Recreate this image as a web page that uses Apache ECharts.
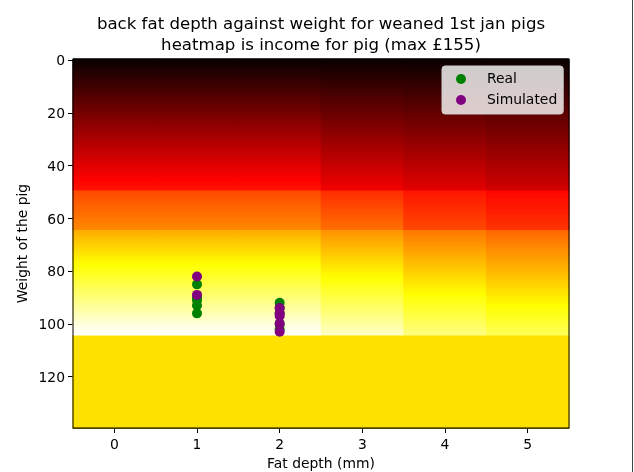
<!DOCTYPE html>
<html><head><meta charset="utf-8">
<script src="https://cdn.jsdelivr.net/npm/echarts@6/dist/echarts.min.js"></script>
<style>html,body{margin:0;padding:0;background:#fff}#c{width:634px;height:472px}</style>
</head><body><div id="c"></div>
<script>
const depthTicks = ['0','1','2','3','4','5'];
const incomeDepth0to2 = [0,1.2,2.5,3.7,5,6.2,7.4,8.7,9.9,11.2,12.4,13.6,14.9,16.1,17.4,18.6,19.8,21.1,22.3,23.6,24.8,26,27.3,28.5,29.8,31,32.2,33.5,34.7,36,37.2,38.4,39.7,40.9,42.2,43.4,44.6,45.9,47.1,48.4,49.6,50.8,52.1,53.3,54.6,55.8,57,58.3,59.5,60.8,
73.8,74.8,75.8,76.8,77.8,78.8,79.8,80.8,81.9,82.9,83.9,84.9,85.9,86.9,87.9,
96.9,98.3,99.8,101.3,102.8,104.3,105.8,107.3,108.8,110.3,111.8,113.2,114.7,116.2,117.7,119.2,120.7,122.2,123.7,125.2,126.7,128.1,129.6,131.1,132.6,134.1,135.6,137.1,138.6,140.1,141.6,143,144.5,146,147.5,149,150.5,152,153.5,155,
108.6,108.6,108.6,108.6,108.6,
108.6,108.6,108.6,108.6,108.6,
108.6,108.6,108.6,108.6,108.6,
108.6,108.6,108.6,108.6,108.6,
108.6,108.6,108.6,108.6,108.6,
108.6,108.6,108.6,108.6,108.6,
108.6,108.6,108.6,108.6,108.6];
const incomeDepth3 = [0,1.1,2.2,3.3,4.4,5.5,6.5,7.6,8.7,9.8,10.9,12,13.1,14.2,15.3,16.4,17.4,18.5,19.6,20.7,21.8,22.9,24,25.1,26.2,27.3,28.3,29.4,30.5,31.6,32.7,33.8,34.9,36,37.1,38.2,39.2,40.3,41.4,42.5,43.6,44.7,45.8,46.9,48,49.1,50.1,51.2,52.3,53.4,
67,68.1,69.1,70.2,71.3,72.4,73.4,74.5,75.6,76.6,77.7,78.8,79.9,80.9,82,
91,92.4,93.8,95.2,96.6,98,99.4,100.8,102.2,103.6,105,106.4,107.8,109.2,110.6,112,113.4,114.8,116.2,117.6,119,120.4,121.8,123.2,124.6,126,127.4,128.8,130.2,131.6,133,134.4,135.8,137.2,138.6,140,141.4,142.8,144.2,145.6,
108.6,108.6,108.6,108.6,108.6,
108.6,108.6,108.6,108.6,108.6,
108.6,108.6,108.6,108.6,108.6,
108.6,108.6,108.6,108.6,108.6,
108.6,108.6,108.6,108.6,108.6,
108.6,108.6,108.6,108.6,108.6,
108.6,108.6,108.6,108.6,108.6];
const incomeDepth4 = [0,1,2,3.1,4.1,5.1,6.1,7.1,8.2,9.2,10.2,11.2,12.2,13.3,14.3,15.3,16.3,17.3,18.4,19.4,20.4,21.4,22.4,23.5,24.5,25.5,26.5,27.5,28.6,29.6,30.6,31.6,32.6,33.7,34.7,35.7,36.7,37.7,38.8,39.8,40.8,41.8,42.8,43.9,44.9,45.9,46.9,47.9,49,50,
61.7,62.5,63.3,64.1,64.9,65.7,66.5,67.3,68.2,69,69.8,70.6,71.4,72.2,73,
84.5,85.8,87.1,88.4,89.7,91,92.3,93.6,94.9,96.2,97.5,98.8,100.1,101.4,102.7,104,105.3,106.6,107.9,109.2,110.5,111.8,113.1,114.4,115.7,117,118.3,119.6,120.9,122.2,123.5,124.8,126.1,127.4,128.7,130,131.3,132.6,133.9,135.2,
108.6,108.6,108.6,108.6,108.6,
108.6,108.6,108.6,108.6,108.6,
108.6,108.6,108.6,108.6,108.6,
108.6,108.6,108.6,108.6,108.6,
108.6,108.6,108.6,108.6,108.6,
108.6,108.6,108.6,108.6,108.6,
108.6,108.6,108.6,108.6,108.6];
const incomeDepth5 = [0,.9,1.9,2.8,3.8,4.7,5.6,6.6,7.5,8.5,9.4,10.3,11.3,12.2,13.2,14.1,15,16,16.9,17.9,18.8,19.7,20.7,21.6,22.6,23.5,24.4,25.4,26.3,27.3,28.2,29.1,30.1,31,32,32.9,33.8,34.8,35.7,36.7,37.6,38.5,39.5,40.4,41.4,42.3,43.2,44.2,45.1,46.1,
57.8,58.6,59.3,60.1,60.8,61.6,62.3,63.1,63.9,64.6,65.4,66.1,66.9,67.6,68.4,
80.6,81.8,83.1,84.3,85.6,86.8,88,89.3,90.5,91.8,93,94.2,95.5,96.7,98,99.2,100.4,101.7,102.9,104.2,105.4,106.6,107.9,109.1,110.4,111.6,112.8,114.1,115.3,116.6,117.8,119,120.3,121.5,122.8,124,125.2,126.5,127.7,129,
108.6,108.6,108.6,108.6,108.6,
108.6,108.6,108.6,108.6,108.6,
108.6,108.6,108.6,108.6,108.6,
108.6,108.6,108.6,108.6,108.6,
108.6,108.6,108.6,108.6,108.6,
108.6,108.6,108.6,108.6,108.6,
108.6,108.6,108.6,108.6,108.6];
const columns = [incomeDepth0to2, incomeDepth0to2, incomeDepth0to2, incomeDepth3, incomeDepth4, incomeDepth5];
const realDepth = [1,1,1,1,1,2,2,2,2,2];
const realWeight = [85,90,91,93,96,92,94,96,100,102];
const simDepth = [1,1,2,2,2,2,2];
const simWeight = [82,89,94,96,97,100,103];

const cells = [];
columns.forEach((col, x) => col.forEach((v, y) => cells.push([x, y, v])));
const weights = incomeDepth3.map((_, i) => String(i));

// matplotlib "hot" colormap
function hot(t) {
  const r = Math.min(1, 0.0416 + t * (1 - 0.0416) / 0.365);
  const g = Math.max(0, Math.min(1, (t - 0.365) / 0.381));
  const b = Math.max(0, (t - 0.746) / 0.254);
  return `rgb(${Math.round(r*255)},${Math.round(g*255)},${Math.round(Math.min(1,b)*255)})`;
}
const palette = [];
for (let i = 0; i <= 255; i++) palette.push(hot(i / 255));

const font = 'DejaVu Sans';
const chart = echarts.init(document.getElementById('c'), null, {renderer: 'canvas'});
const heatLayer = {type: 'heatmap', data: cells, progressive: 0, emphasis: {disabled: true}, silent: true, z: 1};
chart.setOption({
  animation: false,
  backgroundColor: '#fff',
  textStyle: {fontFamily: font},
  title: {
    text: 'back fat depth against weight for weaned 1st jan pigs\nheatmap is income for pig (max £155)',
    left: 321, top: 14, padding: 0, textAlign: 'center',
    textStyle: {fontFamily: font, fontSize: 16.6, fontWeight: 'normal', color: '#000', lineHeight: 21}
  },
  grid: {left: 73, top: 59, width: 496, height: 369, containLabel: false, outerBoundsMode: 'none'},
  xAxis: {
    type: 'category', data: depthTicks, position: 'bottom',
    name: 'Fat depth (mm)', nameLocation: 'middle', nameGap: 29,
    nameTextStyle: {fontFamily: font, fontSize: 13.9, color: '#000'},
    axisLine: {show: true, lineStyle: {color: '#000', width: 1}},
    axisTick: {show: true, alignWithLabel: true, length: 5, lineStyle: {color: '#000'}},
    axisLabel: {color: '#000', fontSize: 13.9, margin: 10, fontFamily: font},
    splitLine: {show: false}
  },
  yAxis: {
    type: 'category', data: weights, inverse: true,
    name: 'Weight of the pig', nameLocation: 'middle', nameGap: 43, nameMoveOverlap: false,
    nameTextStyle: {fontFamily: font, fontSize: 13.9, color: '#000'},
    axisLine: {show: true, lineStyle: {color: '#000', width: 1}},
    axisTick: {show: true, alignWithLabel: true, length: 5, interval: (i) => i % 20 === 0, lineStyle: {color: '#000'}},
    axisLabel: {color: '#000', fontSize: 13.9, margin: 8, verticalAlign: 'top', lineHeight: 3, fontFamily: font, interval: (i) => i % 20 === 0},
    splitLine: {show: false}
  },
  visualMap: {show: false, min: 0, max: 155, seriesIndex: [0, 1, 2], dimension: 2, inRange: {color: palette}},
  legend: {
    show: true, orient: 'vertical', left: 442, top: 66,
    data: ['Real', 'Simulated'], icon: 'circle',
    itemWidth: 10, itemHeight: 10, itemGap: 7,
    padding: [6, 6, 7, 14], borderRadius: 3,
    backgroundColor: 'rgba(255,255,255,0.8)', borderColor: '#ccc', borderWidth: 1,
    textStyle: {fontFamily: font, fontSize: 13.9, color: '#000', padding: [0, 0, 0, 16]}
  },
  series: [
    heatLayer, heatLayer, heatLayer,
    {type: 'scatter', name: 'Real', data: realDepth.map((d, i) => [d, realWeight[i]]), symbol: 'circle', symbolSize: 10, itemStyle: {color: 'green', opacity: 1}, z: 3},
    {type: 'scatter', name: 'Simulated', data: simDepth.map((d, i) => [d, simWeight[i]]), symbol: 'circle', symbolSize: 10, itemStyle: {color: 'purple', opacity: 1}, z: 4}
  ],
  graphic: [
    {type: 'rect', z: 50, silent: true, shape: {x: 73, y: 59, width: 496, height: 369}, style: {fill: 'none', stroke: '#000', lineWidth: 1}},
    {type: 'line', z: 50, silent: true, shape: {x1: 632.5, y1: 0, x2: 632.5, y2: 472}, style: {stroke: '#444', lineWidth: 1}}
  ]
});
</script></body></html>
